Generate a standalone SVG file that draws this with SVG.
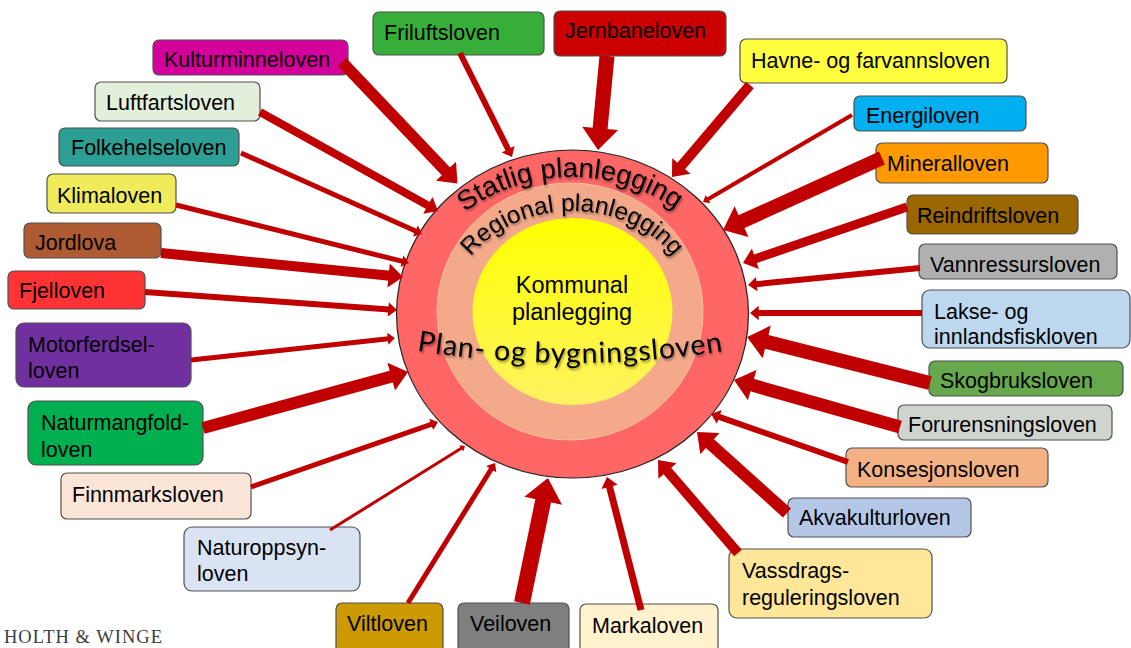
<svg xmlns="http://www.w3.org/2000/svg" width="1131" height="648" viewBox="0 0 1131 648">
<defs>
<style>
.box{stroke:#505050;stroke-width:1.2}
.lbl{font-family:"Liberation Sans",Arial,Helvetica,sans-serif;font-size:21.5px;fill:#000}
.arr{stroke:#C00000;fill:none;marker-end:url(#ah)}
.ring{font-family:"Liberation Sans",Arial,Helvetica,sans-serif;fill:#000;filter:url(#sh)}
</style>
<marker id="ah" markerUnits="strokeWidth" viewBox="-0.15 -1.2 1.45 2.4" markerWidth="1.45" markerHeight="2.4" refX="0" refY="0" orient="auto" overflow="visible">
<path d="M-0.15,-1.2 L1.3,0 L-0.15,1.2 Z" fill="#C00000"/>
</marker>
<linearGradient id="yg" x1="0" y1="0" x2="0" y2="1">
<stop offset="0" stop-color="#FFFF00"/>
<stop offset="1" stop-color="#FFF260"/>
</linearGradient>
<filter id="sh" x="-10%" y="-30%" width="120%" height="160%">
<feDropShadow dx="1" dy="2" stdDeviation="1" flood-color="#000" flood-opacity="0.4"/>
</filter>
<path id="arcS" d="M 412,314 A 160,137 0 0 1 732,314"/>
<path id="arcR" d="M 450,314 A 122,103 0 0 1 694,314"/>
<path id="arcP" d="M 408,349 A 969,969 0 0 0 736,349"/>
</defs>
<rect width="1131" height="648" fill="#FFFFFF"/>

<g id="center">
<ellipse cx="572.5" cy="314" rx="176" ry="164" fill="#FF6666" stroke="#222" stroke-width="1.2"/>
<ellipse cx="570" cy="311.5" rx="133" ry="128.5" fill="#F3A98A" stroke="#F7BFA0" stroke-width="1"/>
<ellipse cx="572.5" cy="311.5" rx="100" ry="93.5" fill="url(#yg)"/>
<text class="ring" font-size="27.5"><textPath href="#arcS" startOffset="49.5%" text-anchor="middle">Statlig planlegging</textPath></text>
<text class="ring" font-size="24.5"><textPath href="#arcR" startOffset="50%" text-anchor="middle">Regional planlegging</textPath></text>
<text class="lbl" style="font-size:23.5px" text-anchor="middle" x="572" y="293">Kommunal</text>
<text class="lbl" style="font-size:23.5px" text-anchor="middle" x="572" y="320">planlegging</text>
<text class="ring" style="font-family:Lato,'Open Sans',sans-serif;letter-spacing:0.9px" font-size="28.5"><textPath href="#arcP" startOffset="49.5%" text-anchor="middle">Plan- og bygningsloven</textPath></text>
</g>

<g id="kulturminneloven"><rect class="box" x="153" y="40" width="195" height="35" rx="6" fill="#D5009B"/><text class="lbl" x="164" y="67">Kulturminneloven</text></g>
<g id="luftfartsloven"><rect class="box" x="95" y="82" width="165" height="39" rx="6" fill="#E2EFDA"/><text class="lbl" x="106" y="110">Luftfartsloven</text></g>
<g id="folkehelseloven"><rect class="box" x="59" y="128" width="180" height="38" rx="6" fill="#2D9E93"/><text class="lbl" x="71" y="155">Folkehelseloven</text></g>
<g id="klimaloven"><rect class="box" x="47" y="174" width="129" height="39" rx="6" fill="#EFEB5B"/><text class="lbl" x="57" y="203">Klimaloven</text></g>
<g id="jordlova"><rect class="box" x="24" y="223" width="137" height="35" rx="6" fill="#AE5A32"/><text class="lbl" x="35" y="250">Jordlova</text></g>
<g id="fjelloven"><rect class="box" x="8" y="271" width="137" height="38" rx="6" fill="#FF3333"/><text class="lbl" x="19" y="298">Fjelloven</text></g>
<g id="motorferdselloven"><rect class="box" x="16" y="323" width="175" height="64" rx="8" fill="#7030A0"/><text class="lbl" x="28" y="352">Motorferdsel-</text><text class="lbl" x="28" y="378">loven</text></g>
<g id="naturmangfoldloven"><rect class="box" x="28" y="401" width="175" height="64" rx="8" fill="#00B050"/><text class="lbl" x="41" y="430">Naturmangfold-</text><text class="lbl" x="41" y="457">loven</text></g>
<g id="finnmarksloven"><rect class="box" x="61" y="473" width="190" height="46" rx="6" fill="#FBE5D6"/><text class="lbl" x="72" y="502">Finnmarksloven</text></g>
<g id="naturoppsynloven"><rect class="box" x="184" y="527" width="176" height="64" rx="8" fill="#DAE3F3"/><text class="lbl" x="197" y="555">Naturoppsyn-</text><text class="lbl" x="197" y="581">loven</text></g>
<g id="viltloven"><rect class="box" x="336" y="603" width="107" height="52" rx="6" fill="#CC9900"/><text class="lbl" x="347" y="631">Viltloven</text></g>
<g id="veiloven"><rect class="box" x="458" y="603" width="111" height="52" rx="6" fill="#7F7F7F"/><text class="lbl" x="470" y="631">Veiloven</text></g>
<g id="markaloven"><rect class="box" x="580" y="604" width="138" height="52" rx="6" fill="#FFF2CC"/><text class="lbl" x="592" y="633">Markaloven</text></g>
<g id="vassdragsreguleringsloven"><rect class="box" x="729" y="549" width="203" height="69" rx="8" fill="#FFE699"/><text class="lbl" x="742" y="578">Vassdrags-</text><text class="lbl" x="742" y="605">reguleringsloven</text></g>
<g id="akvakulturloven"><rect class="box" x="788" y="498" width="183" height="39" rx="6" fill="#B4C7E7"/><text class="lbl" x="799" y="525">Akvakulturloven</text></g>
<g id="konsesjonsloven"><rect class="box" x="846" y="448" width="202" height="39" rx="6" fill="#F4B183"/><text class="lbl" x="857" y="477">Konsesjonsloven</text></g>
<g id="forurensningsloven"><rect class="box" x="898" y="405" width="214" height="35" rx="6" fill="#D0D4CE"/><text class="lbl" x="908" y="432">Forurensningsloven</text></g>
<g id="skogbruksloven"><rect class="box" x="929" y="361" width="194" height="35" rx="6" fill="#68A84C"/><text class="lbl" x="940" y="388">Skogbruksloven</text></g>
<g id="lakseloven"><rect class="box" x="922" y="290" width="208" height="58" rx="8" fill="#BDD7EE"/><text class="lbl" x="934" y="319">Lakse- og</text><text class="lbl" x="934" y="344">innlandsfiskloven</text></g>
<g id="vannressursloven"><rect class="box" x="919" y="244" width="198" height="35" rx="6" fill="#B0B0B0"/><text class="lbl" x="930" y="272">Vannressursloven</text></g>
<g id="reindriftsloven"><rect class="box" x="907" y="195" width="171" height="39" rx="6" fill="#996600"/><text class="lbl" x="917" y="223">Reindriftsloven</text></g>
<g id="mineralloven"><rect class="box" x="876" y="143" width="172" height="40" rx="6" fill="#FF9900"/><text class="lbl" x="887" y="171">Mineralloven</text></g>
<g id="energiloven"><rect class="box" x="854" y="96" width="172" height="35" rx="6" fill="#00B0F0"/><text class="lbl" x="866" y="123">Energiloven</text></g>
<g id="havneloven"><rect class="box" x="740" y="39" width="267" height="44" rx="6" fill="#FFFF40"/><text class="lbl" x="751" y="68">Havne- og farvannsloven</text></g>
<g id="jernbaneloven"><rect class="box" x="554" y="11" width="172" height="45" rx="6" fill="#CC0000"/><text class="lbl" x="565" y="38">Jernbaneloven</text></g>
<g id="friluftsloven"><rect class="box" x="373" y="12" width="171" height="43" rx="6" fill="#38AE3A"/><text class="lbl" x="384" y="40">Friluftsloven</text></g>

<g id="connectors">
<line class="arr" x1="342" y1="62" x2="447.2" y2="172.6" stroke-width="11.5"/>
<line class="arr" x1="260" y1="112" x2="428.9" y2="206" stroke-width="8"/>
<line class="arr" x1="241" y1="153" x2="416.1" y2="231.3" stroke-width="5"/>
<line class="arr" x1="176" y1="205" x2="402.7" y2="261.4" stroke-width="5"/>
<line class="arr" x1="161" y1="253" x2="390.1" y2="275.7" stroke-width="10"/>
<line class="arr" x1="145" y1="292" x2="389.2" y2="309.4" stroke-width="6"/>
<line class="arr" x1="191" y1="360" x2="388.5" y2="338.7" stroke-width="5"/>
<line class="arr" x1="203" y1="428" x2="393" y2="376.1" stroke-width="12"/>
<line class="arr" x1="251" y1="487" x2="431.9" y2="424.2" stroke-width="5"/>
<line class="arr" x1="330" y1="530" x2="461.7" y2="448.1" stroke-width="3"/>
<line class="arr" x1="408" y1="603" x2="491.6" y2="468.5" stroke-width="5"/>
<line class="arr" x1="522" y1="603" x2="543.7" y2="498.4" stroke-width="16"/>
<line class="arr" x1="641" y1="610" x2="609.3" y2="485.8" stroke-width="7"/>
<line class="arr" x1="738" y1="553" x2="666.5" y2="469.9" stroke-width="10"/>
<line class="arr" x1="787" y1="513" x2="708.6" y2="442.4" stroke-width="12"/>
<line class="arr" x1="848" y1="462" x2="718.4" y2="416.6" stroke-width="6"/>
<line class="arr" x1="900" y1="427" x2="750.3" y2="384.6" stroke-width="13"/>
<line class="arr" x1="930" y1="383" x2="764.7" y2="341.4" stroke-width="14"/>
<line class="arr" x1="922" y1="313" x2="757.8" y2="313" stroke-width="6"/>
<line class="arr" x1="920" y1="268" x2="755.8" y2="284.2" stroke-width="6"/>
<line class="arr" x1="907" y1="207" x2="754.1" y2="259.2" stroke-width="9"/>
<line class="arr" x1="882" y1="158" x2="739.6" y2="222.5" stroke-width="14"/>
<line class="arr" x1="852" y1="115" x2="707.5" y2="199.4" stroke-width="4"/>
<line class="arr" x1="750" y1="85" x2="680.4" y2="167.1" stroke-width="10"/>
<line class="arr" x1="607" y1="56" x2="599.9" y2="130.6" stroke-width="15"/>
<line class="arr" x1="460" y1="53" x2="508.5" y2="150" stroke-width="6"/>
</g>

<text x="4" y="643" font-family="'Liberation Serif','Times New Roman',serif" font-size="18.5" letter-spacing="1" fill="#3C3C3C">HOLTH &amp; WINGE</text>
</svg>
